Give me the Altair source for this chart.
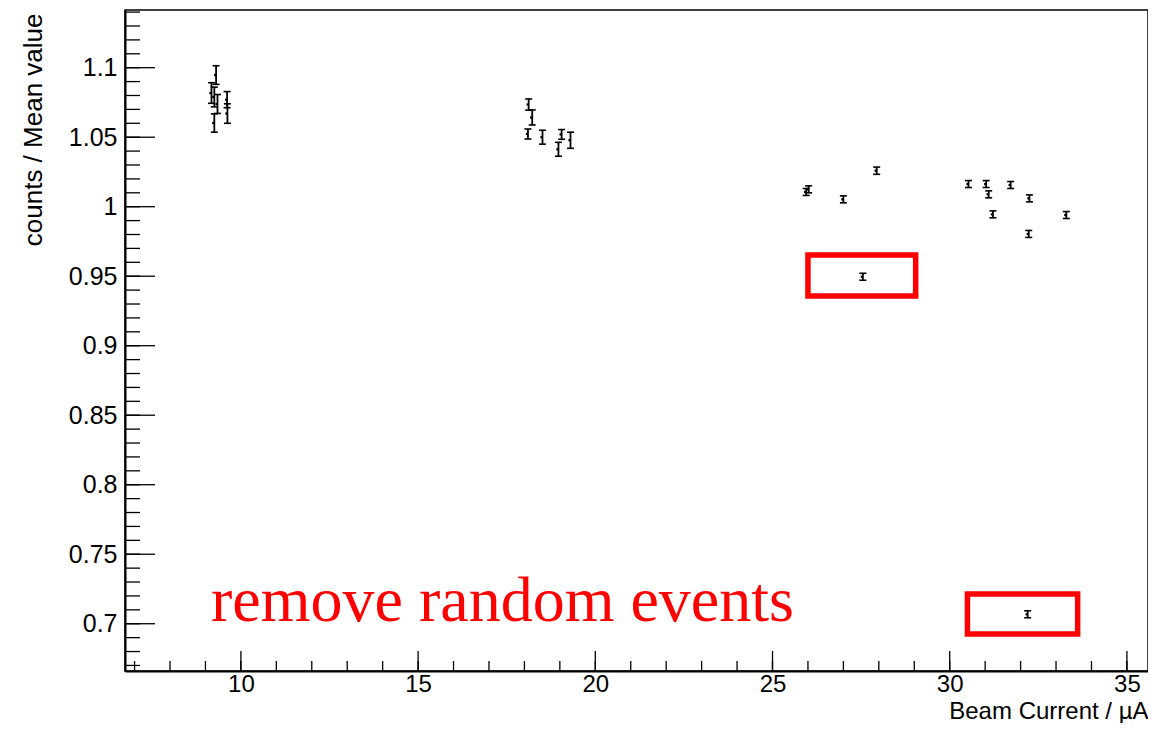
import altair as alt
import pandas as pd

# ---- data ----
beam_current = [9.17, 9.30, 9.25, 9.34, 9.25, 9.61, 9.62,
                18.12, 18.22, 18.10, 18.51, 19.05, 18.96, 19.30,
                27.94, 26.02, 25.95, 27.00, 27.55,
                30.53, 31.03, 31.10, 31.72, 32.25, 31.22, 33.29, 32.23, 32.20]
ratio = [1.0818, 1.0947, 1.0789, 1.0739, 1.0602, 1.0770, 1.0670,
         1.0735, 1.0642, 1.0523, 1.0500, 1.0520, 1.0413, 1.0478,
         1.0259, 1.0125, 1.0106, 1.0053, 0.9496,
         1.0163, 1.0163, 1.0089, 1.0156, 1.0060, 0.9945, 0.9940, 0.9804, 0.7068]
ratio_err = [0.0074, 0.0067, 0.0071, 0.0068, 0.0066, 0.0058, 0.0070,
             0.0040, 0.0054, 0.0036, 0.0050, 0.0035, 0.0050, 0.0058,
             0.0026, 0.0025, 0.0025, 0.0025, 0.0025,
             0.0025, 0.0025, 0.0025, 0.0025, 0.0025, 0.0025, 0.0025, 0.0025, 0.0025]

# highlighted boxes (data coordinates)
box_x0 = [26.00, 30.50]
box_x1 = [29.04, 33.61]
box_y0 = [0.9358, 0.6926]
box_y1 = [0.9653, 0.7214]

annotation = "remove random events"

# axis ticks
x_major = [10, 15, 20, 25, 30, 35]
x_minor = [7, 8, 9, 10, 11, 12, 13, 14, 15, 16, 17, 18, 19, 20, 21, 22,
           23, 24, 25, 26, 27, 28, 29, 30, 31, 32, 33, 34, 35]
y_major = [0.7, 0.75, 0.8, 0.85, 0.9, 0.95, 1.0, 1.05, 1.1]
y_minor = [0.67, 0.68, 0.69, 0.70, 0.71, 0.72, 0.73, 0.74, 0.75, 0.76, 0.77,
           0.78, 0.79, 0.80, 0.81, 0.82, 0.83, 0.84, 0.85, 0.86, 0.87, 0.88,
           0.89, 0.90, 0.91, 0.92, 0.93, 0.94, 0.95, 0.96, 0.97, 0.98, 0.99,
           1.00, 1.01, 1.02, 1.03, 1.04, 1.05, 1.06, 1.07, 1.08, 1.09, 1.10,
           1.11, 1.12, 1.13, 1.14]

W, H = 1023, 661
X_DOMAIN = [6.73, 35.595]
Y_DOMAIN = [0.666, 1.1415]
FONT = "Liberation Sans"

df = pd.DataFrame({"x": beam_current, "y": ratio, "e": ratio_err})
df["lo"] = df["y"] - df["e"]
df["hi"] = df["y"] + df["e"]

xs = alt.Scale(domain=X_DOMAIN, nice=False, zero=False)
ys = alt.Scale(domain=Y_DOMAIN, nice=False, zero=False)

base = alt.Chart(df)

bars = base.mark_rule(color="black", strokeWidth=1.8).encode(
    x=alt.X("x:Q", scale=xs,
            axis=alt.Axis(values=x_major, ticks=False, tickSize=0, grid=False,
                          labelFont=FONT, labelFontSize=24, labelColor="black",
                          labelPadding=1, domainColor="black", domainWidth=2,
                          title="Beam Current / µA", titleFont=FONT,
                          titleFontSize=24, titleFontWeight="normal",
                          titleColor="black", titleX=W, titleY=47,
                          titleAlign="right", titleBaseline="alphabetic")),
    y=alt.Y("lo:Q", scale=ys,
            axis=alt.Axis(values=y_major, ticks=False, tickSize=0, grid=False,
                          labelExpr="format(datum.value, '~g')",
                          labelFont=FONT, labelFontSize=25, labelColor="black",
                          labelPadding=8, domainColor="black", domainWidth=2,
                          title="counts / Mean value", titleFont=FONT,
                          titleFontSize=26, titleFontWeight="normal",
                          titleColor="black", titleX=-92, titleY=3,
                          titleAngle=270, titleAlign="right",
                          titleBaseline="middle")),
    y2="hi:Q",
)

cap_lo = base.mark_rule(color="black", strokeWidth=1.6, xOffset=-3.5, x2Offset=3.5).encode(
    x=alt.X("x:Q", scale=xs), x2="x:Q",
    y=alt.Y("lo:Q", scale=ys))
cap_hi = base.mark_rule(color="black", strokeWidth=1.6, xOffset=-3.5, x2Offset=3.5).encode(
    x=alt.X("x:Q", scale=xs), x2="x:Q",
    y=alt.Y("hi:Q", scale=ys))
centers = base.mark_point(shape="square", filled=True, size=5, color="black",
                          xOffset=-1, opacity=1).encode(
    x=alt.X("x:Q", scale=xs),
    y=alt.Y("y:Q", scale=ys))

boxes = alt.Chart(pd.DataFrame({"x0": box_x0, "x1": box_x1,
                                "y0": box_y0, "y1": box_y1})).mark_rect(
    fillOpacity=0, stroke="#ff0000", strokeWidth=5.5).encode(
    x=alt.X("x0:Q", scale=xs), x2="x1:Q",
    y=alt.Y("y0:Q", scale=ys), y2="y1:Q")

label = alt.Chart(pd.DataFrame({"t": [annotation]})).mark_text(
    font="Liberation Serif", fontSize=64, color="#ff0000",
    align="left", baseline="alphabetic").encode(
    text="t:N", x=alt.value(86), y=alt.value(611))

xmaj = alt.Chart(pd.DataFrame({"t": x_major})).mark_rule(color="black", strokeWidth=1.3).encode(
    x=alt.X("t:Q", scale=xs), y=alt.value(H), y2=alt.value(H - 20))
xmin = alt.Chart(pd.DataFrame({"t": x_minor})).mark_rule(color="black", strokeWidth=1.3).encode(
    x=alt.X("t:Q", scale=xs), y=alt.value(H), y2=alt.value(H - 10))
ymaj = alt.Chart(pd.DataFrame({"t": y_major})).mark_rule(color="black", strokeWidth=1.3).encode(
    y=alt.Y("t:Q", scale=ys), x=alt.value(0), x2=alt.value(30))
ymin = alt.Chart(pd.DataFrame({"t": y_minor})).mark_rule(color="black", strokeWidth=1.3).encode(
    y=alt.Y("t:Q", scale=ys), x=alt.value(0), x2=alt.value(15))

chart = alt.layer(bars, cap_lo, cap_hi, centers, boxes, label,
                  xmaj, xmin, ymaj, ymin).properties(
    width=W, height=H,
    autosize=alt.AutoSizeParams(type="none"),
    padding={"left": 117, "top": 2, "right": 0, "bottom": 52},
    background="white",
).configure_view(stroke="black", strokeWidth=1.5)

chart.save("out.html", embed_options={"renderer": "svg", "actions": False})
